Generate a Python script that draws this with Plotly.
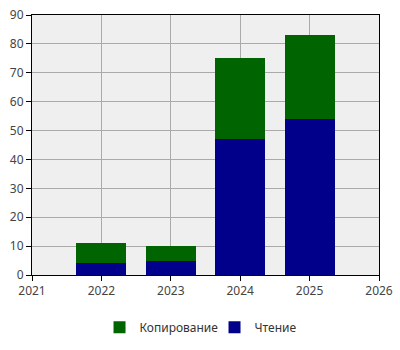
import plotly.graph_objects as go

years = [2022, 2023, 2024, 2025]
reading = [4, 5, 47, 54]
copying = [7, 5, 28, 29]
series_names = ["Чтение", "Копирование"]
colors = ["#00008b", "#006400"]

fig = go.Figure()
fig.add_trace(go.Bar(x=years, y=reading, name=series_names[0], marker=dict(color=colors[0], line=dict(width=0)), width=0.72))
fig.add_trace(go.Bar(x=years, y=copying, name=series_names[1], marker=dict(color=colors[1], line=dict(width=0)), width=0.72))

axis_common = dict(showline=True, linecolor="black", linewidth=1, mirror=True,
                   ticks="outside", ticklen=5, tickcolor="black", automargin=False,
                   showgrid=True, gridcolor="#aaaaaa", gridwidth=1, zeroline=False,
                   tickfont=dict(color="#444444", size=12))

fig.update_layout(
    width=400, height=350,
    margin=dict(l=32, r=21, t=15, b=75, autoexpand=False),
    barmode="stack",
    plot_bgcolor="#efefef", paper_bgcolor="white",
    font=dict(family="Noto Sans", size=12, color="#444444"),
    xaxis=dict(range=[2021, 2026], dtick=1, tick0=2021, **axis_common),
    yaxis=dict(range=[0, 90], dtick=10, **axis_common),
    legend=dict(orientation="h", x=0.526, xanchor="center", y=-0.145, yanchor="top",
                traceorder="reversed", itemwidth=30, entrywidth=70,
                font=dict(size=12, color="#333333")),
    showlegend=True,
)

fig.write_html("out.html")
